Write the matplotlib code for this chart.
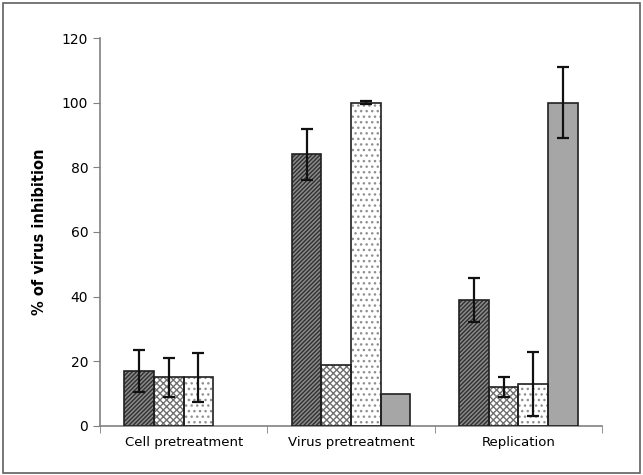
import numpy as np
import matplotlib.pyplot as plt
from matplotlib.patches import Rectangle

categories = ['Cell pretreatment', 'Virus pretreatment', 'Replication']
s1 = [17, 84, 39]
s1_err = [6.5, 8, 6.8]
s2 = [15, 19, 12]
s2_err = [6, 0, 3]
s3 = [15, 100, 13]
s3_err = [7.7, 0.4, 10]
s4 = [0, 10, 100]
s4_err = [0, 0, 11]

values = [s1, s2, s3, s4]
errors = [s1_err, s2_err, s3_err, s4_err]
# facecolor, hatch colour, hatch
styles = [('#8a8a8a', '#303030', '////////'),
          ('white', '#707070', 'xxxxx'),
          ('white', '#909090', '...'),
          ('#a6a6a6', '#a6a6a6', None)]

fig = plt.figure(figsize=(6.43, 4.75), dpi=100)
ax = fig.add_axes([0.1555, 0.1032, 0.7807, 0.8168])

x = np.arange(len(categories))
w = 0.177
for i, (vals, errs) in enumerate(zip(values, errors)):
    fc, hc, hatch = styles[i]
    pos = x + (i - 1.5) * w
    v = np.array(vals)
    nz = v > 0
    ax.bar(pos[nz], v[nz], w, color=fc, edgecolor=hc, hatch=hatch, linewidth=0, zorder=2)
    ax.bar(pos[nz], v[nz], w, fill=False, edgecolor='#202020', linewidth=1.2, zorder=3)
    e = np.array(errs)
    m = e > 0
    ax.errorbar(pos[m], v[m], yerr=e[m], fmt='none', ecolor='#111111',
                elinewidth=1.6, capsize=4, capthick=1.6, zorder=4)

ax.set_xlim(-0.5, 2.5)
ax.set_ylim(0, 120)
ax.set_yticks(range(0, 121, 20))
ax.set_xticks(x)
ax.set_xticklabels(categories, fontsize=9.5)
ax.set_xticks([-0.5, 0.5, 1.5, 2.5], minor=True)
ax.tick_params(axis='x', which='major', length=0, pad=7)
ax.tick_params(axis='x', which='minor', length=5, color='#808080', direction='out')
ax.tick_params(axis='y', length=5, color='#808080', labelsize=10)
ax.set_ylabel('% of virus inhibition', fontsize=10.5, fontweight='bold', labelpad=11)
for s in ['top', 'right']:
    ax.spines[s].set_visible(False)
for s in ['left', 'bottom']:
    ax.spines[s].set_color('#808080')
    ax.spines[s].set_linewidth(1.2)

# outer frame
fig.patches.append(Rectangle((0.004, 0.004), 0.992, 0.99, transform=fig.transFigure,
                             fill=False, edgecolor='#606060', linewidth=1.2))

fig.savefig('out.png', dpi=100)
